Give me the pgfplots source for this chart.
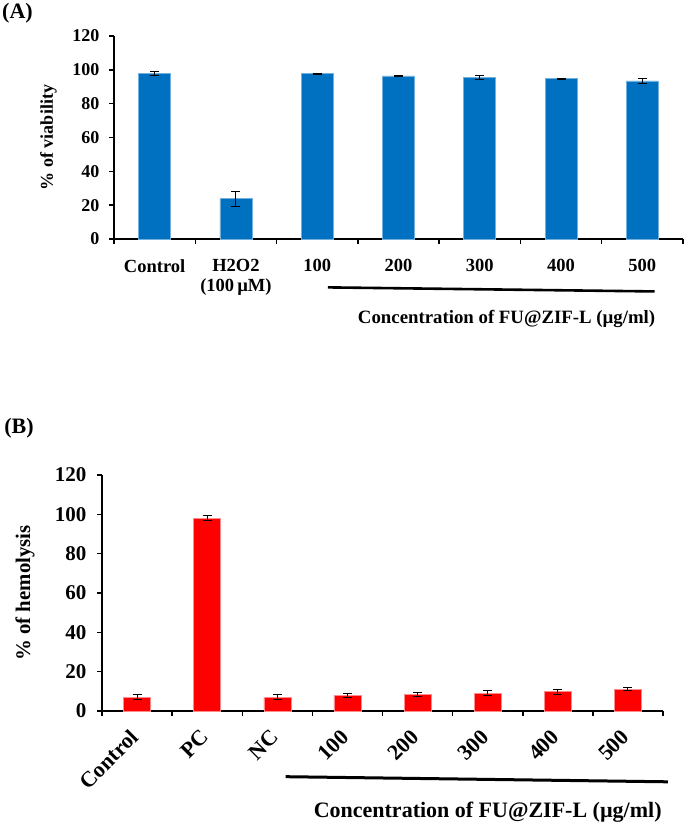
\documentclass[border=0pt]{standalone}
\usepackage{pgfplots}
\pgfplotsset{compat=1.18}
\usepackage{fontspec}
\setmainfont{Liberation Serif}
\definecolor{barblue}{RGB}{0,112,192}
\definecolor{barred}{RGB}{255,0,0}
\begin{document}
\begin{tikzpicture}
\useasboundingbox (0pt,0pt) rectangle (685pt,-829pt);
\pgfplotsset{
  common/.style={
    scale only axis, anchor=south west, clip=false,
    axis x line=bottom, axis y line=left,
    axis line style={-, line width=1.8pt, black},
    ymin=0, ymax=120, ytick={0,20,...,120},
    tick align=outside,
    major tick length=5pt, minor tick length=5pt,
    every tick/.style={black, line width=1.5pt},
    major x tick style={draw=none},
    /pgf/number format/assume math mode=true,
    error bars/error bar style={line width=1pt, black},
    error bars/error mark options={rotate=90, mark size=4.5pt, line width=1pt, black},
  }
}
\node[font=\fontsize{22}{24}\selectfont\bfseries] at (17.5pt,-13pt) {(A)};
\node[font=\fontsize{22}{24}\selectfont\bfseries] at (19pt,-428pt) {(B)};

\begin{axis}[common, at={(114pt,-239pt)}, width=569pt, height=203pt,
  xmin=-0.5, xmax=6.5, xtick={0,...,6},
  minor xtick={-0.5,0.5,...,6.5},
  xticklabels={Control,{H2O2\\(100\,µM)},100,200,300,400,500},
  xticklabel style={align=center, anchor=north, font=\fontsize{18.5}{20}\selectfont\bfseries},
  xticklabel shift=12pt,
  yticklabel style={font=\fontsize{18}{20}\selectfont\bfseries, xshift=-6pt},
  ylabel={\% of viability},
  ylabel style={at={(axis description cs:-0.115,0.5)}, anchor=center, font=\fontsize{18}{20}\selectfont\bfseries},
  bar width=32pt]
\addplot[ybar, fill=barblue, draw=barblue!55!white, line width=0.6pt,
  error bars/.cd, y dir=both, y explicit]
  coordinates {(0,97.9) +- (0,1.2) (1,23.8) +- (0,4.3) (2,97.8) +- (0,0.3)
               (3,96.4) +- (0,0.3) (4,95.6) +- (0,1.3) (5,94.8) +- (0,0.3) (6,93.4) +- (0,1.5)};
\draw[line width=2.6pt] (axis cs:2.13,-28.6) -- (axis cs:6.15,-31.0);
\node[font=\fontsize{18.8}{20}\selectfont\bfseries] at (axis cs:4.33,-47) {Concentration of FU@ZIF-L (µg/ml)};
\end{axis}

\begin{axis}[common, at={(102pt,-711pt)}, width=561pt, height=236pt,
  xmin=-0.5, xmax=7.5, xtick={0,...,7},
  minor xtick={-0.5,0.5,...,7.5},
  xticklabels={Control,PC,NC,100,200,300,400,500},
  xticklabel style={rotate=45, anchor=east, font=\fontsize{22}{24}\selectfont\bfseries},
  xticklabel shift=15pt,
  yticklabel style={font=\fontsize{21}{23}\selectfont\bfseries, xshift=-7pt},
  ylabel={\% of hemolysis},
  ylabel style={at={(axis description cs:-0.137,0.5)}, anchor=center, font=\fontsize{20.8}{22}\selectfont\bfseries},
  bar width=27pt]
\addplot[ybar, fill=barred, draw=barred!45!white, line width=0.6pt,
  error bars/.cd, y dir=both, y explicit]
  coordinates {(0,7.1) +- (0,1.2) (1,98.0) +- (0,1.2) (2,7.1) +- (0,1.2) (3,7.8) +- (0,1.1)
               (4,8.4) +- (0,1.2) (5,9.1) +- (0,1.2) (6,9.8) +- (0,1.2) (7,11.1) +- (0,0.9)};
\draw[line width=3pt] (axis cs:2.12,-33.4) -- (axis cs:7.57,-36.0);
\node[font=\fontsize{22}{24}\selectfont\bfseries] at (axis cs:5.0,-51.6) {Concentration of FU@ZIF-L (µg/ml)};
\end{axis}
\end{tikzpicture}
\end{document}
